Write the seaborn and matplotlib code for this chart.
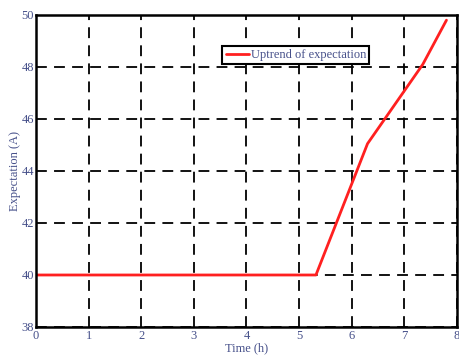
import matplotlib
matplotlib.use("Agg")
import matplotlib.pyplot as plt
import seaborn as sns
import pandas as pd

time_h = [0.0, 5.32, 6.3, 7.35, 7.8]
expectation = [40.0, 40.0, 45.05, 48.1, 49.8]
series_name = "Uptrend of expectation"
x_ticks = [0, 1, 2, 3, 4, 5, 6, 7, 8]
y_ticks = [38, 40, 42, 44, 46, 48, 50]

sns.set_theme(style="white")
plt.rcParams['font.family'] = ['Liberation Serif', 'DejaVu Serif']

df = pd.DataFrame({"Time (h)": time_h, "Expectation (A)": expectation, "series": series_name})

fig = plt.figure(figsize=(4.59, 3.62), dpi=100)
ax = fig.add_axes([0.0784, 0.0967, 0.9172, 0.8619])
sns.lineplot(data=df, x="Time (h)", y="Expectation (A)", hue="series",
             palette=["#ff2020"], linewidth=2.0, ax=ax, sort=False)

ax.set_xlim(0, 8)
ax.set_ylim(38, 50)
ax.set_xticks(x_ticks)
ax.set_yticks(y_ticks)
txtc = "#46508a"
ax.tick_params(axis="both", direction="in", length=4, width=1.2, colors="black",
               labelcolor=txtc, labelsize=9)
ax.tick_params(axis="x", pad=2.5)
ax.tick_params(axis="y", pad=1.5)
ax.set_xlabel("Time (h)", color=txtc, fontsize=9, labelpad=0)
ax.set_ylabel("Expectation (A)", color=txtc, fontsize=9, labelpad=0)
ax.grid(True, color="black", linestyle=(0, (6, 4)), linewidth=1.3)
for s in ax.spines.values():
    s.set_color("black")
    s.set_linewidth(1.8)

leg = ax.legend(loc="upper left", bbox_to_anchor=(0.443, 0.9), fontsize=9,
                frameon=True, fancybox=False, handlelength=1.9, handletextpad=0.1,
                borderpad=0.25, borderaxespad=0)
leg.get_frame().set_edgecolor("black")
leg.get_frame().set_linewidth(1.5)
leg.get_frame().set_alpha(1)
for t in leg.get_texts():
    t.set_color(txtc)

fig.savefig("out.png", dpi=100)
